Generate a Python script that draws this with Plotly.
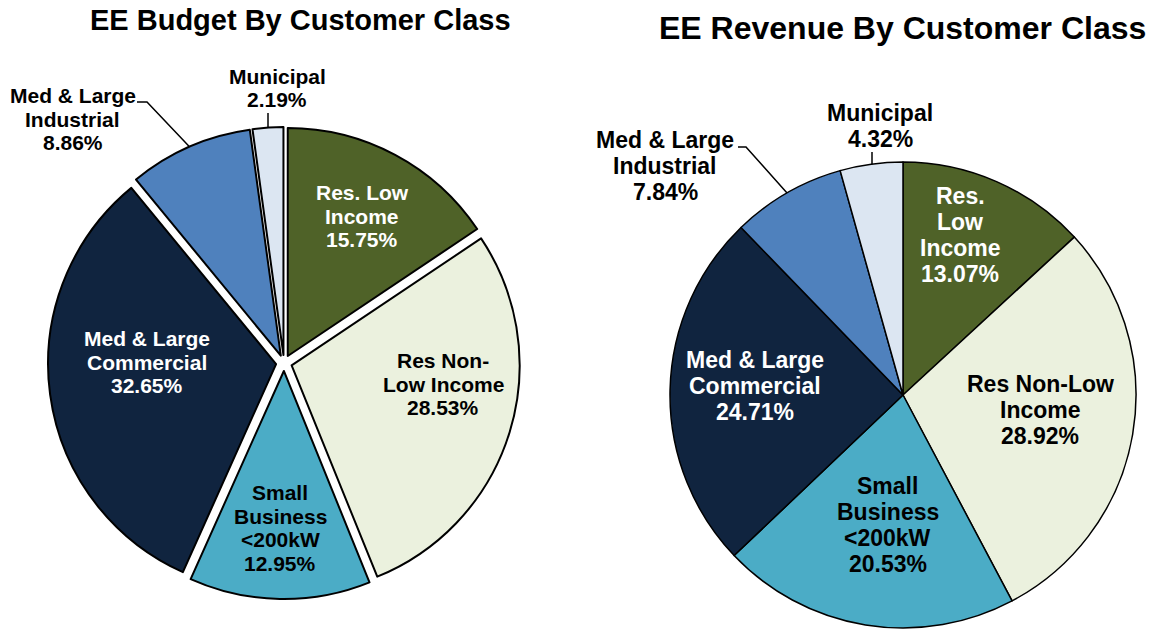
import math
import plotly.graph_objects as go

W, H = 1154, 630

# ---- data ----
categories = ["Res Low Income", "Res Non-Low Income", "Small Business <200kW",
              "Med & Large Commercial", "Med & Large Industrial", "Municipal"]
budget_pct = [15.75, 28.53, 12.95, 32.65, 8.86, 2.19]
revenue_pct = [13.07, 28.92, 20.53, 24.71, 7.84, 4.32]

budget_labels = [["Res. Low", "Income", "15.75%"], ["Res Non-", "Low Income", "28.53%"],
                 ["Small", "Business", "&lt;200kW", "12.95%"], ["Med & Large", "Commercial", "32.65%"],
                 ["Med & Large", "Industrial", "8.86%"], ["Municipal", "2.19%"]]
revenue_labels = [["Res.", "Low", "Income", "13.07%"], ["Res Non-Low", "Income", "28.92%"],
                  ["Small", "Business", "&lt;200kW", "20.53%"], ["Med & Large", "Commercial", "24.71%"],
                  ["Med & Large", "Industrial", "7.84%"], ["Municipal", "4.32%"]]

colors = ["#4F6228", "#EBF1DE", "#4BACC6", "#10243F", "#4F81BD", "#DCE6F2"]
text_colors = ["white", "black", "black", "white", "black", "black"]

# ---- layout geometry (pixels) ----
PULL = 0.035
L_C, L_R = (284, 363), 236   # outer extent incl. pull
R_C, R_R = (903, 395), 233

# label centers (pixels)
budget_label_pos = [(362, 216), (443, 384), (280, 528), (147, 362), (73, 119), (277, 88)]
revenue_label_pos = [(960, 235), (1040, 410), (888, 525), (755, 386), (665, 166), (880, 126)]
# leader lines: for outside labels, (start point near label, elbow point)
budget_leaders = {4: [(137, 102), (147, 102)], 5: [(268, 113)]}
revenue_leaders = {4: [(738, 147), (746, 147)], 5: [(872, 152)]}


def px(x):
    return x / W


def py(y):
    return 1 - y / H


def domain(c, r):
    return dict(x=[px(c[0] - r), px(c[0] + r)], y=[py(c[1] + r), py(c[1] - r)])


def mid_angles(vals):
    tot = sum(vals)
    out, cum = [], 0
    for v in vals:
        out.append((cum + v / 2) / tot * 2 * math.pi)
        cum += v
    return out


fig = go.Figure()
fig.add_trace(go.Pie(values=budget_pct, labels=categories, sort=False, direction="clockwise",
                     rotation=0, pull=[PULL] * 6, textinfo="none", hoverinfo="label+percent",
                     marker=dict(colors=colors, line=dict(color="black", width=2)),
                     domain=domain(L_C, L_R), showlegend=False))
fig.add_trace(go.Pie(values=revenue_pct, labels=categories, sort=False, direction="clockwise",
                     rotation=0, textinfo="none", hoverinfo="label+percent",
                     marker=dict(colors=colors, line=dict(color="black", width=1.5)),
                     domain=domain(R_C, R_R), showlegend=False))

FONT = "Arial, Liberation Sans, sans-serif"
annotations = []
shapes = []

for labels, pos, size, spacing, vals, c, r, leaders in [
        (budget_labels, budget_label_pos, 21, 23.5, budget_pct, L_C, L_R, budget_leaders),
        (revenue_labels, revenue_label_pos, 23, 25.7, revenue_pct, R_C, R_R, revenue_leaders)]:
    angs = mid_angles(vals)
    for i, (lines, p) in enumerate(zip(labels, pos)):
        n = len(lines)
        for j, t in enumerate(lines):
            yy = p[1] + (j - (n - 1) / 2) * spacing
            annotations.append(dict(text=t, x=px(p[0]), y=py(yy), xref="paper", yref="paper",
                                    xanchor="center", yanchor="middle", showarrow=False,
                                    font=dict(family=FONT, size=size, color=text_colors[i],
                                              weight="bold")))
    for i, pts in leaders.items():
        a = angs[i]
        ex, ey = c[0] + r * math.sin(a), c[1] - r * math.cos(a)
        if len(pts) == 1:
            pts = [pts[0], (pts[0][0], ey)]
            ex = pts[0][0]
        seq = pts + [(ex, ey)]
        path = "M " + " L ".join(f"{px(x)},{py(y)}" for x, y in seq)
        shapes.append(dict(type="path", path=path, xref="paper", yref="paper",
                           line=dict(color="black", width=1.5)))

annotations.append(dict(text="EE Budget By Customer Class", x=px(300), y=py(20), xref="paper",
                        yref="paper", xanchor="center", yanchor="middle", showarrow=False,
                        font=dict(family=FONT, size=29, color="black", weight="bold")))
annotations.append(dict(text="EE Revenue By Customer Class", x=px(902), y=py(28), xref="paper",
                        yref="paper", xanchor="center", yanchor="middle", showarrow=False,
                        font=dict(family=FONT, size=32, color="black", weight="bold")))

fig.update_layout(width=W, height=H, margin=dict(l=0, r=0, t=0, b=0),
                  paper_bgcolor="white", plot_bgcolor="white",
                  annotations=annotations, shapes=shapes)

fig.write_html("out.html", config={"displayModeBar": False},
               post_script="document.body.style.margin='0';")
